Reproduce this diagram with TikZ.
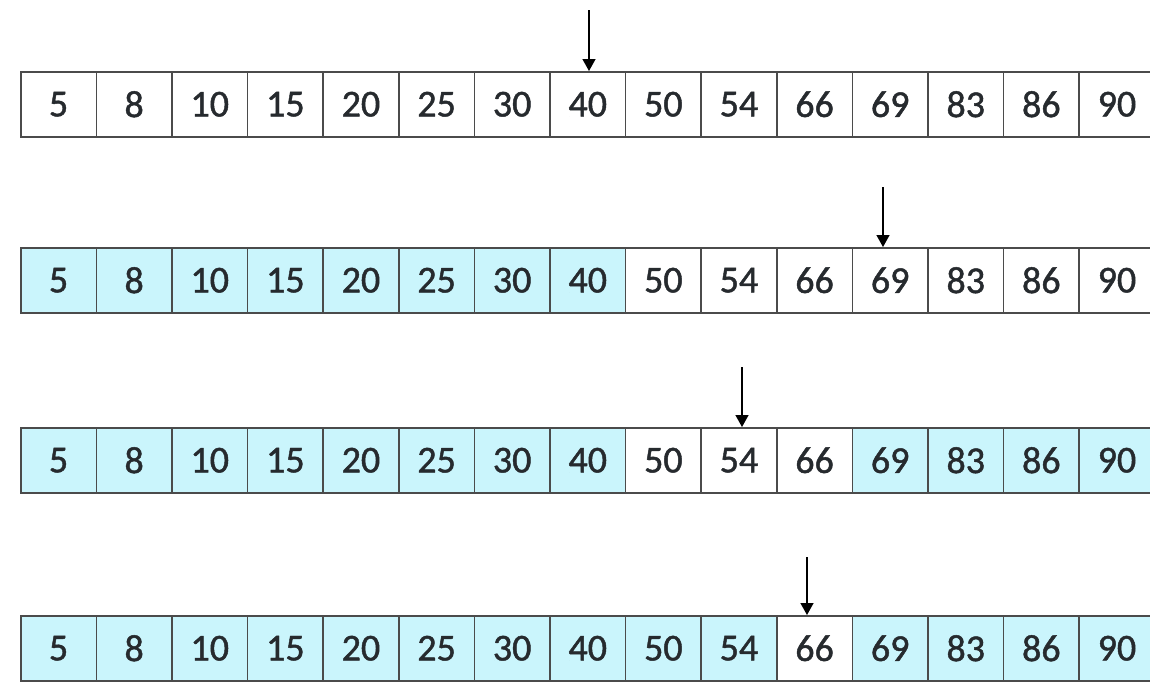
\documentclass[tikz,border=0pt]{standalone}
\usepackage{fontspec}
\setmainfont{Carlito}
\newfontfamily\cellfont{Carlito}[FakeBold=1.2]
\usetikzlibrary{arrows.meta}
\definecolor{cellcyan}{RGB}{202,245,252}
\definecolor{cellline}{RGB}{75,75,75}
\definecolor{celltext}{RGB}{38,42,46}
\tikzset{
  cellbox/.style={draw=cellline, line width=1.5pt, minimum width=75.6pt, minimum height=65pt,
    inner sep=0pt, anchor=north west, text=celltext,
    font=\cellfont\fontsize{38}{42}\selectfont},
  hit/.style={cellbox, fill=cellcyan},
  plain/.style={cellbox, fill=white},
  pointer/.style={line width=1.4pt, -{Triangle[width=13pt,length=12pt]}}
}
\begin{document}
\begin{tikzpicture}[x=1pt,y=-1pt]
\useasboundingbox (0,0) rectangle (1150,681);
\fill[white] (0,0) rectangle (1150,681);
\def\vals{5,8,10,15,20,25,30,40,50,54,66,69,83,86,90}
\foreach \r/\top in {1/71, 2/247, 3/427, 4/615}{
  \foreach \v [count=\i] in \vals {
    \ifnum\r=1 \gdef\st{plain}\fi
    \ifnum\r=2 \ifnum\i<9 \gdef\st{hit}\else\gdef\st{plain}\fi\fi
    \ifnum\r=3 \ifnum\i<9 \gdef\st{hit}\else\ifnum\i>11 \gdef\st{hit}\else\gdef\st{plain}\fi\fi\fi
    \ifnum\r=4 \ifnum\i=11 \gdef\st{plain}\else\gdef\st{hit}\fi\fi
    \node[\st] (r\r c\i) at ({20+(\i-1)*75.6},\top) {\v};
  }
}
\coordinate (p1) at (589,10);
\coordinate (p2) at (883,187);
\coordinate (p3) at (742,367);
\coordinate (p4) at (807,557);
\draw[pointer] (p1) -- (p1 |- r1c8.north);
\draw[pointer] (p2) -- (p2 |- r2c12.north);
\draw[pointer] (p3) -- (p3 |- r3c10.north);
\draw[pointer] (p4) -- (p4 |- r4c11.north);
\end{tikzpicture}
\end{document}
